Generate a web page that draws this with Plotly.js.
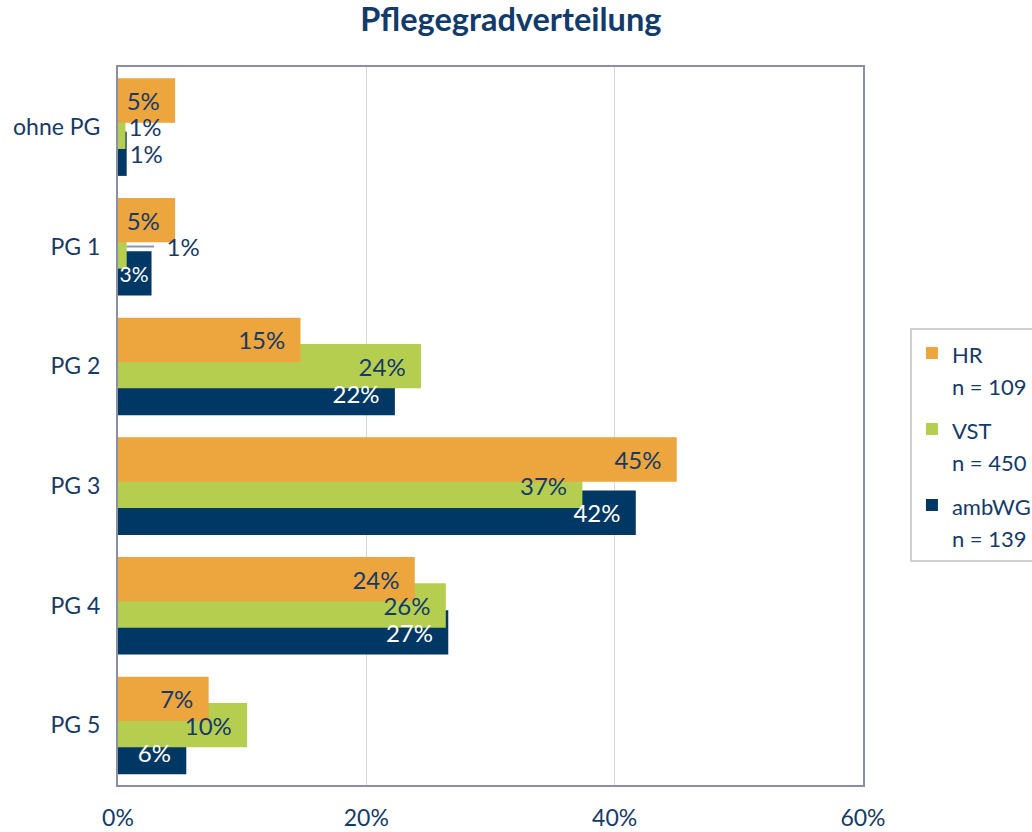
<!DOCTYPE html>
<html><head><meta charset="utf-8">
<script src="https://cdn.plot.ly/plotly-3.0.1.min.js"></script>
<style>body{margin:0;background:#fff}#chart{width:1032px;height:832px}</style>
</head><body><div id="chart"></div>
<script>
const categories = ["ohne PG", "PG 1", "PG 2", "PG 3", "PG 4", "PG 5"];
const hrValues = [4.6, 4.6, 14.7, 45.0, 23.9, 7.3];
const vstValues = [0.6, 0.7, 24.4, 37.4, 26.4, 10.4];
const ambValues = [0.7, 2.7, 22.3, 41.7, 26.6, 5.5];
const hrLabels = ["5%", "5%", "15%", "45%", "24%", "7%"];
const vstLabels = ["1%", "1%", "24%", "37%", "26%", "10%"];
const ambLabels = ["1%", "3%", "22%", "42%", "27%", "6%"];
const seriesNames = ["HR", "VST", "ambWG"];
const seriesN = [109, 450, 139];
const xTicks = [0, 20, 40, 60];

const textCol = "#163A68";
const fontFam = "Lato, 'Open Sans', sans-serif";
const W = 0.37;
const colors = ["#EDA53D", "#B5CE50", "#003865"];
const offsets = [-0.405, -0.185, 0.04];
const valueSets = [hrValues, vstValues, ambValues];
const labelSets = [hrLabels, vstLabels, ambLabels];
const insideCols = [textCol, textCol, "#ffffff"];
const NB = "\u00a0";
function pos(vals){ return vals.map(v => v < 2 ? "outside" : "inside"); }
function padded(labels, vals, series){
  return labels.map((t, k) => {
    if (vals[k] < 2) {
      // PG 1 / VST label sits further right, joined by a leader line
      return (series === 1 && k === 1) ? NB.repeat(6) + t : t;
    }
    if (vals[k] < 3.5) return t;
    return t + NB + NB;
  });
}
function sizes(vals){ return vals.map(v => (v >= 2 && v < 3.5) ? 21 : 24); }
function legendName(i){
  return '<span style="font-size:22px">' + seriesNames[i] + '</span><br><span style="font-size:22px">n = ' + seriesN[i] + '</span>';
}

const bars = [], labels = [];
[2, 1, 0].forEach(i => {
  bars.push({type:"bar", orientation:"h", name:legendName(i), x:valueSets[i], y:categories,
    width:W, offset:offsets[i], marker:{color:colors[i]}, legendgroup:"g"+i, legendrank:i+1});
  labels.push({type:"bar", orientation:"h", x:valueSets[i], y:categories, showlegend:false,
    width:W, offset:offsets[i], marker:{color:"rgba(0,0,0,0)"},
    text:padded(labelSets[i], valueSets[i], i), textposition:pos(valueSets[i]), insidetextanchor:"end",
    constraintext:"none", textangle:0, cliponaxis:false,
    insidetextfont:{color:insideCols[i], size:sizes(valueSets[i]), family:fontFam},
    outsidetextfont:{color:textCol, size:24, family:fontFam}});
});

const leader = {type:"line", xref:"x", yref:"y", x0:vstValues[1], x1:vstValues[1] + 2.2,
  y0:categories[1], y1:categories[1], line:{color:"#8496B4", width:2}, layer:"above"};

const layout = {
  width:1032, height:832,
  margin:{l:118, r:169, t:67, b:47, autoexpand:false},
  paper_bgcolor:"#fff", plot_bgcolor:"#fff",
  barmode:"overlay",
  font:{family:fontFam, color:textCol, size:22},
  title:{text:"<b>Pflegegradverteilung</b>", x:0.495, xanchor:"center", y:0.976, yanchor:"middle",
         font:{size:32.5, color:"#123B6B", family:fontFam}},
  xaxis:{range:[0,60], tickvals:xTicks, ticktext:xTicks.map(v=>v+"%"), showgrid:true,
         gridcolor:"#d9d9d9", gridwidth:1, zeroline:false, showline:true, linecolor:"#8A8FA3",
         linewidth:2, mirror:true, ticks:"", ticklabelstandoff:11,
         tickfont:{size:23, color:textCol}},
  yaxis:{range:[5.5,-0.5], showline:true, linecolor:"#8A8FA3", linewidth:2, mirror:true,
         ticks:"", ticklabelstandoff:11, showgrid:false, tickfont:{size:23, color:textCol}},
  shapes:[leader],
  showlegend:true,
  legend:{x:1.063, xanchor:"left", y:0.636, yanchor:"top", bordercolor:"#d0d0d0", borderwidth:2,
          bgcolor:"#fff", font:{size:25, color:textCol}, valign:"top",
          traceorder:"grouped", tracegroupgap:8},
};
Plotly.newPlot("chart", bars.concat(labels), layout, {displayModeBar:false, staticPlot:true});
</script></body></html>
